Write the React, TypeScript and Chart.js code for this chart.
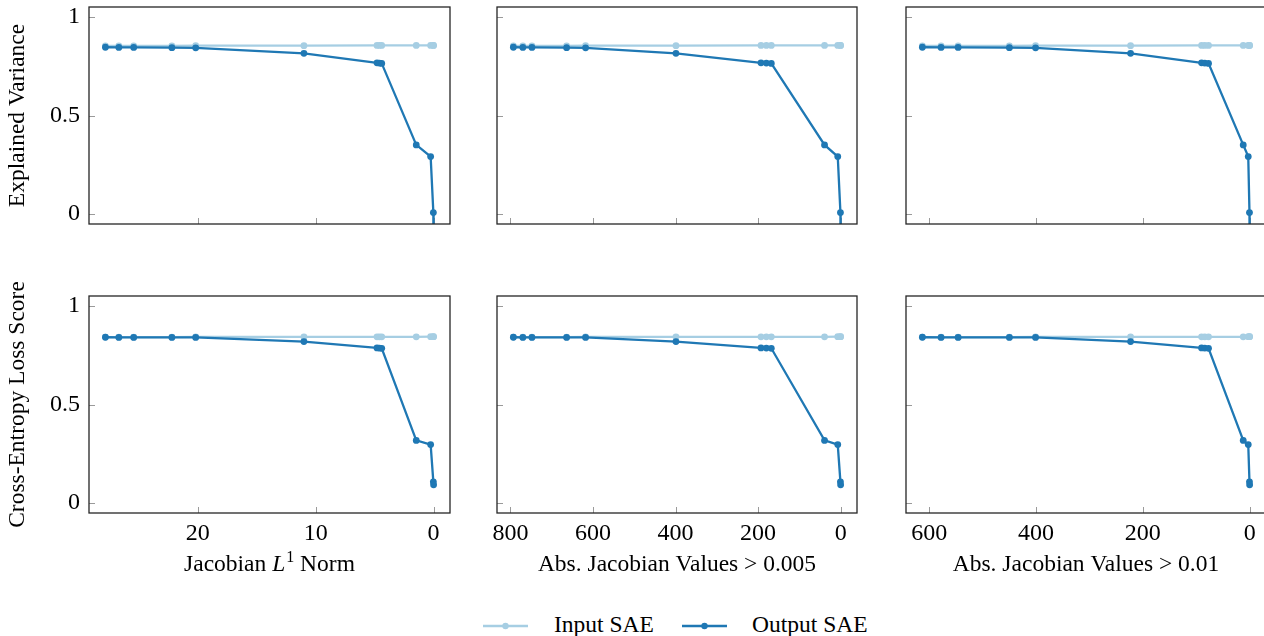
import React, { useEffect, useRef } from 'react';
import { Chart, registerables } from 'chart.js';
Chart.register(...registerables);

const FONT = "'Liberation Serif', 'Times New Roman', serif";
const IN_COLOR = '#a6cee3';
const OUT_COLOR = '#1f78b4';

// x metrics (one value per SAE pair)
const jacobianL1Norm = [27.84, 26.7, 25.44, 22.2, 20.18, 11.0, 4.8, 4.6, 4.4, 1.47, 0.25, 0.02, 0.0];
const absJacobianOver005 = [793, 770, 748, 664, 618, 399, 193, 180, 168, 39, 7, 0.5, 0];
const absJacobianOver01 = [613, 578, 546, 450, 401, 223, 90, 84, 77, 12, 2.6, 0.3, 0];

// y metrics
const explainedVarianceInput = [0.853, 0.853, 0.853, 0.853, 0.854, 0.854, 0.855, 0.855, 0.855, 0.855, 0.855, 0.855, 0.855];
const explainedVarianceOutput = [0.846, 0.845, 0.845, 0.844, 0.843, 0.815, 0.767, 0.766, 0.764, 0.351, 0.292, 0.008, -0.3];
const ceLossScoreInput = [0.842, 0.842, 0.842, 0.842, 0.843, 0.843, 0.843, 0.843, 0.843, 0.843, 0.844, 0.844, 0.844];
const ceLossScoreOutput = [0.841, 0.840, 0.840, 0.840, 0.840, 0.819, 0.787, 0.786, 0.785, 0.318, 0.297, 0.108, 0.093];

const yTicks = [0, 0.5, 1];
const l1Ticks = [0, 10, 20];
const j005Ticks = [0, 200, 400, 600, 800];
const j01Ticks = [0, 200, 400, 600];

const yTitles = ['Explained Variance', 'Cross-Entropy Loss Score'];

type Seg = { t: string; style?: 'italic' | 'sup' };
const xTitles: Seg[][] = [
  [{ t: 'Jacobian ' }, { t: 'L', style: 'italic' }, { t: '1', style: 'sup' }, { t: ' Norm' }],
  [{ t: 'Abs. Jacobian Values > 0.005' }],
  [{ t: 'Abs. Jacobian Values > 0.01' }],
];

const colLeft = [89, 497, 906];
const colRight = [450, 857, 1266];
const rowTop = [7, 296];
const rowBottom = [224, 513];

type PanelProps = {
  row: number;
  col: number;
  xs: number[];
  yIn: number[];
  yOut: number[];
  xTicks: number[];
};

function Panel({ row, col, xs, yIn, yOut, xTicks }: PanelProps) {
  const ref = useRef<HTMLCanvasElement | null>(null);
  const L = col === 0 ? colLeft[0] : 8;
  const T = col === 0 ? 30 : 6;
  const R = 6;
  const B = row === 1 ? 80 : 30;
  const left = colLeft[col] - L;
  const top = rowTop[row] - T;
  const width = colRight[col] - colLeft[col] + L + R;
  const height = rowBottom[row] - rowTop[row] + T + B;

  useEffect(() => {
    const canvas = ref.current;
    if (!canvas) return;
    const xMaxData = Math.max(...xs);
    const xmin = -0.05 * xMaxData;
    const xmax = 1.05 * xMaxData;

    const panelPlugin = {
      id: 'panelDeco',
      beforeDatasetsDraw(chart: any) {
        const { ctx, chartArea } = chart;
        const xs_ = chart.scales.x;
        const ys_ = chart.scales.y;
        ctx.save();
        ctx.strokeStyle = '#9a9a9a';
        ctx.lineWidth = 1;
        for (const t of xs_.ticks) {
          const px = Math.round(xs_.getPixelForValue(t.value)) + 0.5;
          ctx.beginPath();
          ctx.moveTo(px, chartArea.bottom);
          ctx.lineTo(px, chartArea.bottom - 6);
          ctx.stroke();
        }
        for (const t of ys_.ticks) {
          const py = Math.round(ys_.getPixelForValue(t.value)) + 0.5;
          ctx.beginPath();
          ctx.moveTo(chartArea.left, py);
          ctx.lineTo(chartArea.left + 6, py);
          ctx.stroke();
        }
        ctx.restore();
      },
      afterDraw(chart: any) {
        const { ctx, chartArea } = chart;
        ctx.save();
        ctx.strokeStyle = '#262626';
        ctx.lineWidth = 1.3;
        ctx.strokeRect(chartArea.left, chartArea.top, chartArea.right - chartArea.left, chartArea.bottom - chartArea.top);
        ctx.fillStyle = '#000';
        if (col === 0) {
          ctx.save();
          ctx.font = `23.5px ${FONT}`;
          ctx.textAlign = 'center';
          ctx.textBaseline = 'middle';
          ctx.translate(18, (chartArea.top + chartArea.bottom) / 2);
          ctx.rotate(-Math.PI / 2);
          ctx.fillText(yTitles[row], 0, 0);
          ctx.restore();
        }
        if (row === 1) {
          const segs = xTitles[col];
          const fontFor = (s: Seg) =>
            s.style === 'italic' ? `italic 23.5px ${FONT}` : s.style === 'sup' ? `16px ${FONT}` : `23.5px ${FONT}`;
          let total = 0;
          for (const s of segs) {
            ctx.font = fontFor(s);
            total += ctx.measureText(s.t).width + (s.style === 'sup' ? 1 : 0);
          }
          let x = (chartArea.left + chartArea.right) / 2 - total / 2;
          const baseline = chartArea.bottom + 58;
          ctx.textBaseline = 'alphabetic';
          ctx.textAlign = 'left';
          for (const s of segs) {
            ctx.font = fontFor(s);
            ctx.fillText(s.t, x + (s.style === 'sup' ? 1 : 0), s.style === 'sup' ? baseline - 9 : baseline);
            x += ctx.measureText(s.t).width + (s.style === 'sup' ? 1 : 0);
          }
        }
        ctx.restore();
      },
    };

    const chart = new Chart(canvas, {
      type: 'line',
      data: {
        datasets: [
          {
            label: 'Output SAE',
            data: xs.map((x, i) => ({ x, y: yOut[i] })),
            borderColor: OUT_COLOR,
            backgroundColor: OUT_COLOR,
            pointBackgroundColor: OUT_COLOR,
            pointBorderColor: OUT_COLOR,
            borderWidth: 2.3,
            pointRadius: 3.4,
            pointBorderWidth: 0,
            tension: 0,
            clip: 0,
            order: 0,
          },
          {
            label: 'Input SAE',
            data: xs.map((x, i) => ({ x, y: yIn[i] })),
            borderColor: IN_COLOR,
            backgroundColor: IN_COLOR,
            pointBackgroundColor: IN_COLOR,
            pointBorderColor: IN_COLOR,
            borderWidth: 2.3,
            pointRadius: 3.4,
            pointBorderWidth: 0,
            tension: 0,
            clip: 0,
            order: 1,
          },
        ],
      },
      options: {
        animation: false,
        responsive: false,
        events: [],
        layout: { padding: { top: T, right: R, left: 0, bottom: 0 } },
        plugins: { legend: { display: false }, tooltip: { enabled: false } },
        scales: {
          x: {
            type: 'linear',
            reverse: true,
            min: xmin,
            max: xmax,
            grid: { display: false, drawTicks: false },
            border: { display: false },
            afterBuildTicks: (s: any) => {
              s.ticks = xTicks.map((v) => ({ value: v }));
            },
            afterFit: (s: any) => {
              s.height = B;
              s.paddingLeft = 0;
              s.paddingRight = 0;
            },
            ticks: {
              display: row === 1,
              autoSkip: false,
              maxRotation: 0,
              padding: 6,
              color: '#000',
              font: { family: FONT, size: 24 },
              callback: (v: any) => String(v),
            },
          },
          y: {
            type: 'linear',
            min: -0.05,
            max: 1.05,
            grid: { display: false, drawTicks: false },
            border: { display: false },
            afterBuildTicks: (s: any) => {
              s.ticks = yTicks.map((v) => ({ value: v }));
            },
            afterFit: (s: any) => {
              s.width = L;
              s.paddingTop = 0;
              s.paddingBottom = 0;
            },
            ticks: {
              display: col === 0,
              padding: 9,
              color: '#000',
              font: { family: FONT, size: 24 },
              callback: (v: any) => String(v),
            },
          },
        },
      } as any,
      plugins: [panelPlugin],
    });
    return () => chart.destroy();
  }, []);

  return (
    <canvas
      ref={ref}
      width={width}
      height={height}
      style={{ position: 'absolute', left, top, width, height }}
    />
  );
}

function LegendItem({ color, x, textX, label }: { color: string; x: number; textX: number; label: string }) {
  return (
    <>
      <svg style={{ position: 'absolute', left: x, top: 618, width: 46, height: 16 }} width={46} height={16}>
        <line x1={0} y1={8} x2={45} y2={8} stroke={color} strokeWidth={2.3} />
        <circle cx={22.5} cy={8} r={3.2} fill={color} />
      </svg>
      <span
        style={{
          position: 'absolute',
          left: textX,
          top: 612,
          fontFamily: FONT,
          fontSize: '23.5px',
          lineHeight: '24px',
          color: '#000',
          whiteSpace: 'nowrap',
        }}
      >
        {label}
      </span>
    </>
  );
}

export default function App() {
  const xsByCol = [jacobianL1Norm, absJacobianOver005, absJacobianOver01];
  const ticksByCol = [l1Ticks, j005Ticks, j01Ticks];
  const ysByRow = [
    [explainedVarianceInput, explainedVarianceOutput],
    [ceLossScoreInput, ceLossScoreOutput],
  ];
  const panels = [];
  for (let r = 0; r < 2; r++) {
    for (let c = 0; c < 3; c++) {
      panels.push(
        <Panel
          key={`${r}-${c}`}
          row={r}
          col={c}
          xs={xsByCol[c]}
          yIn={ysByRow[r][0]}
          yOut={ysByRow[r][1]}
          xTicks={ticksByCol[c]}
        />
      );
    }
  }
  return (
    <div
      style={{
        position: 'fixed',
        left: 0,
        top: 0,
        width: 1264,
        height: 636,
        overflow: 'hidden',
        background: '#fff',
      }}
    >
      {panels}
      <LegendItem color={IN_COLOR} x={483} textX={554} label="Input SAE" />
      <LegendItem color={OUT_COLOR} x={682} textX={752} label="Output SAE" />
    </div>
  );
}
